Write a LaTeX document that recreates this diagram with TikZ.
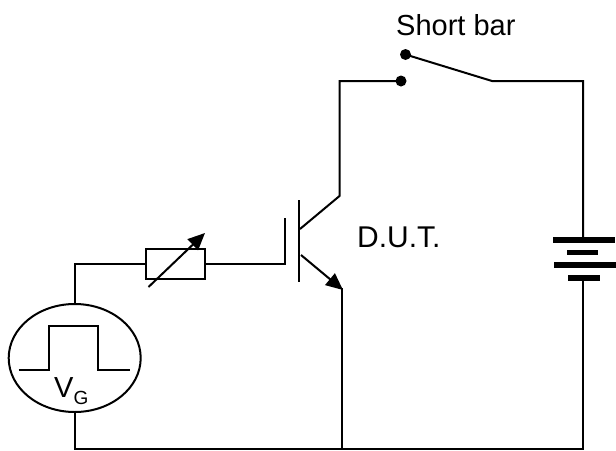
\documentclass[tikz,border=0pt]{standalone}
\usepackage{fontspec}
\setmainfont{Liberation Sans}
\usetikzlibrary{arrows.meta,shapes.geometric}
\tikzset{
  wire/.style={line width=2pt,line join=miter,black},
  plate/.style={line width=5.2pt,black},
  dotnode/.style={circle,fill=black,inner sep=0pt,minimum size=11pt},
  lbl/.style={inner sep=0pt,anchor=base west,font=\fontsize{29}{29}\selectfont},
  tip/.style={-{Triangle[length=17pt,width=15pt]}}
}
\begin{document}
\begin{tikzpicture}[x=1pt,y=-1pt]
\useasboundingbox (0,0) rectangle (616,450);
% nodes
\node[ellipse,draw,line width=2pt,minimum width=132pt,minimum height=108pt,inner sep=0pt] (gen) at (74.7,358) {};
\node[rectangle,draw,line width=2pt,minimum width=59pt,minimum height=30pt,inner sep=0pt] (res) at (175.5,263.5) {};
\node[dotnode] (sw1) at (405.5,54.5) {};
\node[dotnode] (sw2) at (401,81) {};
\node[lbl] (sb) at (396,35) {Short bar};
\node[lbl,font=\fontsize{30}{30}\selectfont] (dut) at (357,247.5) {D.U.T.};
\node[inner sep=0pt,anchor=base west,font=\fontsize{29}{29}\selectfont] (vg) at (54,397) {V\raisebox{-7pt}{\fontsize{19}{19}\selectfont G}};
% junction coordinates
\coordinate (gl) at (74.7,263.5);
\coordinate (gb) at (74.7,448.5);
\coordinate (gate) at (284.5,263.5);
\coordinate (gatetop) at (284.5,218);
\coordinate (bartop) at (299,200);
\coordinate (barbot) at (299,282);
\coordinate (cin) at (300,229);
\coordinate (cbend) at (339.5,196);
\coordinate (ctop) at (339.5,81);
\coordinate (ein) at (301,255);
\coordinate (eout) at (343,290);
\coordinate (ebot) at (342,448.5);
\coordinate (hinge) at (492,81);
\coordinate (rtop) at (583,81);
\coordinate (rbot) at (583,448.5);
\coordinate (bat1) at (583,240);
\coordinate (bat4) at (583,278);
\coordinate (ra) at (148.5,287);
\coordinate (rb) at (205,233);
% wiring
\draw[wire] (gen.north) -- (gl) -- (res.west);
\draw[wire] (res.east) -- (gate) -- (gatetop);
\draw[wire] (bartop) -- (barbot);
\draw[wire] (cin) -- (cbend) -- (ctop) -- (sw2.center);
\draw[wire,tip] (ein) -- (eout);
\draw[wire] (342,288) -- (ebot);
\draw[wire] (sw1.center) -- (hinge) -- (rtop) -- (bat1);
\draw[wire] (bat4) -- (rbot) -- (gb) -- (gen.south);
\draw[wire,tip] (ra) -- (rb);
% pulse
\draw[wire] (18.5,370) -- (48.5,370) -- (48.5,325.5) -- (97.5,325.5) -- (97.5,370) -- (130,370);
% battery
\draw[plate] (553,240) -- (615,240);
\draw[plate] (567,252.5) -- (598,252.5);
\draw[plate] (554,265) -- (616,265);
\draw[plate] (568,278) -- (600,278);
\end{tikzpicture}
\end{document}
